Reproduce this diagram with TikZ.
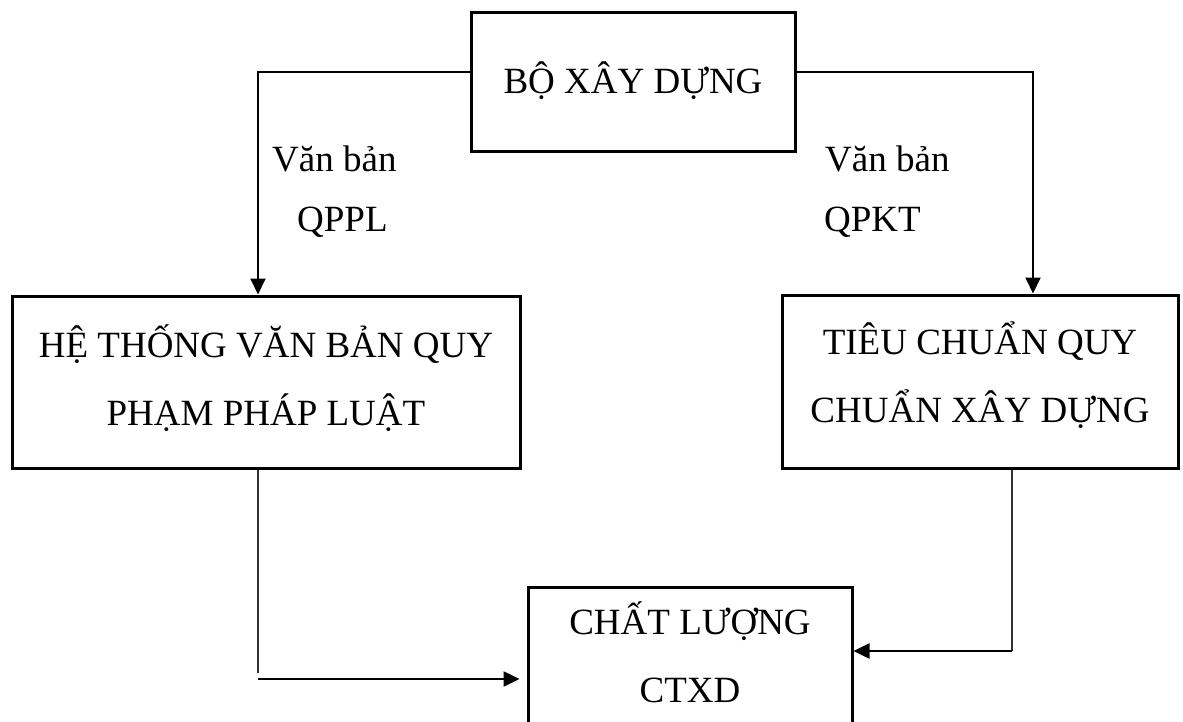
\documentclass[tikz,border=0pt]{standalone}
\usepackage{fontspec}
\setmainfont{Liberation Serif}
\usetikzlibrary{arrows.meta,calc}

% centred lines of box text, optionally lifted without changing the box size
\newcommand{\boxlines}[2][0pt]{\raisebox{#1}[\height][\depth]{\begin{tabular}{@{}c@{}}#2\end{tabular}}}

\tikzset{
  box/.style={draw=black, line width=3pt, rectangle, inner sep=0pt,
    font=\fontsize{37}{68}\selectfont},
  lbl/.style={inner sep=0pt, anchor=base west, font=\fontsize{37}{44}\selectfont},
  conn/.style={draw=black, line width=2pt,
    -{Triangle[length=16pt,width=15pt]}},
  thin/.style={draw=black!80, line width=1.4pt},
}

\begin{document}
\begin{tikzpicture}[x=1pt,y=-1pt]
  \clip (0,0) rectangle (1183,722);
  \fill[white] (0,0) rectangle (1183,722);

  % boxes
  \node[box, minimum width=324pt, minimum height=139pt] (bo) at (633,82.5)
    {\boxlines[3pt]{BỘ XÂY DỰNG}};
  \node[box, minimum width=508pt, minimum height=172pt] (vb) at (266,382)
    {\boxlines[4pt]{HỆ THỐNG VĂN BẢN QUY\\PHẠM PHÁP LUẬT}};
  \node[box, minimum width=396pt, minimum height=173pt] (tc) at (980,381.5)
    {\boxlines[7pt]{TIÊU CHUẨN QUY\\CHUẨN XÂY DỰNG}};
  \node[box, minimum width=324pt, minimum height=139pt] (cl) at (690,656.5)
    {\boxlines[2pt]{CHẤT LƯỢNG\\CTXD}};

  % labels
  \node[lbl] (l1) at (272,172) {Văn bản};
  \node[lbl] (l2) at (297,232) {QPPL};
  \node[lbl] (r1) at (825,172) {Văn bản};
  \node[lbl] (r2) at (824,232) {QPKT};

  % bend points
  \coordinate (lt) at (258,72);
  \coordinate (rt) at (1033,72);
  \coordinate (lbv) at (258,673);
  \coordinate (lb) at (258,679);
  \coordinate (rb) at (1012,651);

  % connectors from the ministry
  \draw[conn] (lt -| bo.west) -- (lt) -- (lt |- vb.north);
  \draw[conn] (rt -| bo.east) -- (rt) -- (rt |- tc.north);

  % connectors to construction quality
  \draw[thin] (lbv |- vb.south) -- (lbv);
  \draw[conn, line width=2.5pt, shorten >=7pt] (lb) -- (lb -| cl.west);
  \draw[thin] (rb |- tc.south) -- (rb);
  \draw[conn, line width=2.5pt] (rb) -- (rb -| cl.east);
\end{tikzpicture}
\end{document}
